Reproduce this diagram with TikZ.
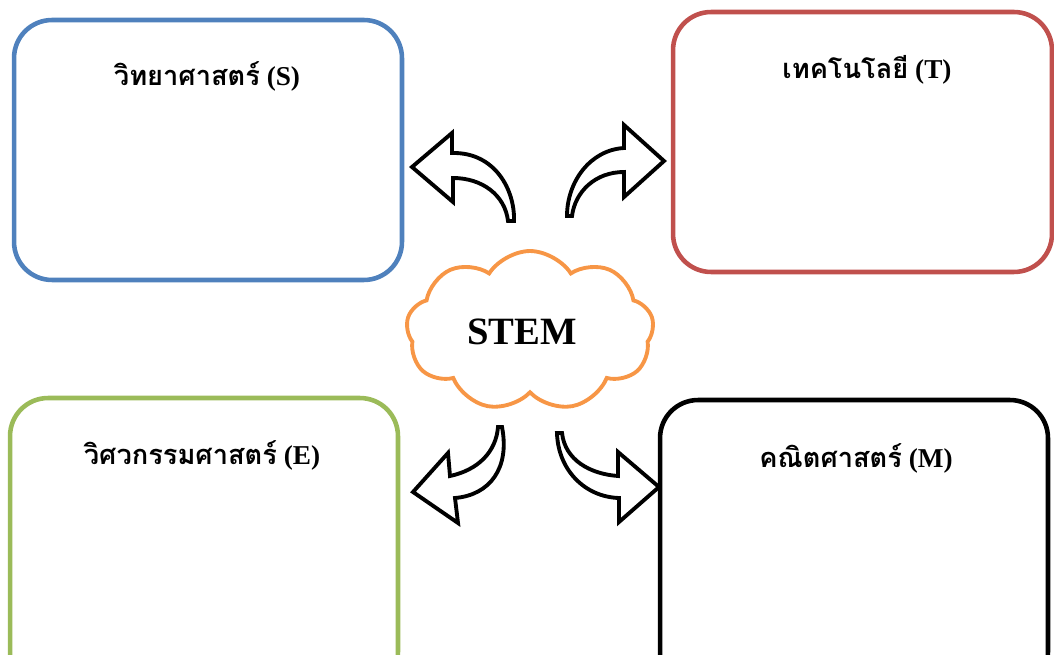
\documentclass[tikz,border=0pt]{standalone}
\usepackage{fontspec}
\setmainfont{Liberation Serif}
\newfontfamily\thaifont[Script=Thai]{Loma}
\usepackage{tikz}
\usetikzlibrary{shapes.symbols}
\definecolor{sciblue}{HTML}{4F81BD}
\definecolor{techred}{HTML}{C0504D}
\definecolor{enggreen}{HTML}{9BBB59}
\definecolor{cloudorange}{HTML}{F79646}
\tikzset{
    subjbox/.style={rectangle, draw, rounded corners=0.76cm, line width=2.6pt,
    	minimum width=7.76cm, minimum height=5.2cm}
}
\tikzset{
    subjlabel/.style={draw=none, fill=none, font=\fontsize{15.5}{18}\selectfont\bfseries}
}
\tikzset{
	curvearrow/.style={draw=black, fill=white, line width=2.2pt, line join=miter}
}
\newcommand{\subj}[2]{{\thaifont #1} (#2)}

\begin{document}
\begin{tikzpicture}[x=0.02cm, y=-0.02cm]
  \useasboundingbox (0,0) rectangle (1054,655);
  \clip (0,0) rectangle (1054,655);

  \node (sci) [subjbox, draw=sciblue] at (208, 150) {};
  \node (tech) [subjbox, draw=techred, minimum width=7.58cm] at (862.5, 142) {};
  \node (eng) [subjbox, draw=enggreen, minimum height=5.84cm] at (204, 544) {};
  \node (math) [subjbox, draw=black, minimum height=5.8cm] at (854, 545) {};

  \node (scitxt) [subjlabel] at (207, 76) {\subj{วิทยาศาสตร์}{S}};
  \node (techtxt) [subjlabel] at (867, 70) {\subj{เทคโนโลยี}{T}};
  \node (engtxt) [subjlabel] at (202, 455) {\subj{วิศวกรรมศาสตร์}{E}};
  \node (mathtxt) [subjlabel] at (856, 458) {\subj{คณิตศาสตร์}{M}};

  \node (cloud) [cloud, cloud puffs=9, cloud puff arc=115, draw=cloudorange,
  	line width=2.2pt, minimum width=4.95cm, minimum height=3.2cm] at (530, 331) {};
  \node (stem) [draw=none, font=\fontsize{22}{24}\selectfont\bfseries] at (522, 332) {STEM};

  % arrows out of the cloud
  \draw [curvearrow] (412,167) -- (452,133) -- (452,153)
  	.. controls (495,152) and (515,190) .. (514,221) -- (508,221)
  	.. controls (505,195) and (482,178) .. (453,178) -- (453,202) -- cycle;
  \draw [curvearrow] (664,161) -- (624,125) -- (624,148)
  	.. controls (590,150) and (567,182) .. (567,216) -- (572,216)
  	.. controls (575,192) and (595,172) .. (624,172) -- (624,197) -- cycle;
  \draw [curvearrow] (413,492) -- (448,453) -- (450,476)
  	.. controls (478,470) and (496,452) .. (498,427) -- (502,427)
  	.. controls (510,468) and (490,495) .. (455,498) -- (458,523) -- cycle;
  \draw [curvearrow] (659,487) -- (618,452) -- (618,476)
  	.. controls (590,474) and (565,460) .. (562,433) -- (557,433)
  	.. controls (558,470) and (585,497) .. (619,498) -- (619,522) -- cycle;
\end{tikzpicture}
\end{document}
